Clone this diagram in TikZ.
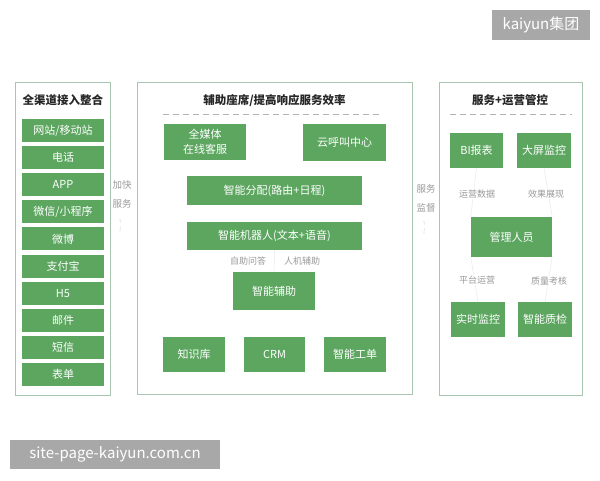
\documentclass[tikz,border=0pt]{standalone}
\usepackage{fontspec}
\setmainfont{Noto Sans CJK SC}
\usetikzlibrary{arrows.meta}
\definecolor{gboxc}{HTML}{5CA660}
\definecolor{framec}{HTML}{A9C6B0}
\definecolor{labc}{HTML}{9A9A9A}
\definecolor{wmc}{HTML}{A8A8A8}
\definecolor{faintc}{HTML}{EDEDED}
\tikzset{
  gbox/.style={fill=gboxc, draw=none, text=white, font=\fontsize{11}{13}\selectfont, inner sep=0pt, align=center},
  frame/.style={draw=framec, line width=0.9pt},
  ttl/.style={font=\fontsize{11.5}{13}\selectfont\bfseries, text=black!85},
  lab/.style={font=\fontsize{9}{11}\selectfont, text=labc, inner sep=0pt},
  side/.style={font=\fontsize{9.5}{19}\selectfont, text=labc, align=center, inner sep=0pt},
  dline/.style={draw=black!30, dashed, dash pattern=on 6pt off 4pt, line width=0.8pt},
  faint/.style={draw=faintc, line width=0.6pt},
  wm/.style={fill=wmc, text=white, inner sep=0pt, font=\fontsize{15}{17}\selectfont}
}
\begin{document}
\begin{tikzpicture}[x=1pt,y=-1pt]
\useasboundingbox[fill=white] (0,0) rectangle (600,480);
% frames
\draw[frame] (15,82) rectangle (110,395);
\draw[frame] (137,82) rectangle (412,394);
\draw[frame] (439,82) rectangle (582,395);
% titles
\node[ttl] (t1) at (63,100) {全渠道接入整合};
\node[ttl] (t2) at (274.5,101) {辅助座席/提高响应服务效率};
\node[ttl] (t3) at (510,100) {服务+运营管控};
\coordinate (d2a) at (163,114); \coordinate (d2b) at (382,114);
\coordinate (d3a) at (450,114); \coordinate (d3b) at (572,114);
\draw[dline] (d2a) -- (d2b);
\draw[dline] (d3a) -- (d3b);
% left column
\foreach \t [count=\i from 0] in {网站/移动站,电话,APP,微信/小程序,微博,支付宝,H5,邮件,短信,表单}{
  \node[gbox, minimum width=82pt, minimum height=23pt] (l\i) at (63,{130.5+27.1*\i}) {\t};
}
% middle
\node[gbox, minimum width=82pt, minimum height=36pt, font=\fontsize{11}{15}\selectfont] (mm) at (205,142) {全媒体\\在线客服};
\node[gbox, minimum width=83pt, minimum height=37pt] (yh) at (344.5,142) {云呼叫中心};
\node[gbox, minimum width=175pt, minimum height=29pt] (fp) at (274.5,190.5) {智能分配(路由+日程)};
\node[gbox, minimum width=175pt, minimum height=28pt] (jq) at (274.5,236) {智能机器人(文本+语音)};
\node[lab] (zw) at (248,261) {自助问答};
\node[lab] (rj) at (302,261) {人机辅助};
\node[gbox, minimum width=82pt, minimum height=38pt] (fz) at (274,291) {智能辅助};
\draw[faint] (jq.south) -- (fz.north);
\node[gbox, minimum width=62pt, minimum height=35pt] (zs) at (194,354.5) {知识库};
\node[gbox, minimum width=61pt, minimum height=35pt] (crm) at (274.5,354.5) {CRM};
\node[gbox, minimum width=62pt, minimum height=35pt] (gd) at (355,354.5) {智能工单};
% right
\node[gbox, minimum width=53pt, minimum height=35pt] (bi) at (476.5,150.5) {BI报表};
\node[gbox, minimum width=54pt, minimum height=35pt] (dp) at (544,150.5) {大屏监控};
\node[gbox, minimum width=81pt, minimum height=40pt] (gl) at (511.5,237) {管理人员};
\node[gbox, minimum width=54pt, minimum height=35pt] (ss) at (478,319.5) {实时监控};
\node[gbox, minimum width=54pt, minimum height=35pt] (zj) at (545,319.5) {智能质检};
\draw[faint] (bi.south) -- (gl.north west);
\draw[faint] (dp.south) -- (gl.north east);
\draw[faint] (gl.south west) -- (ss.north);
\draw[faint] (gl.south east) -- (zj.north);
\node[lab, fill=white, inner sep=1pt] (yy) at (477,194) {运营数据};
\node[lab, fill=white, inner sep=1pt] (xg) at (546,194) {效果展现};
\node[lab, fill=white, inner sep=1pt] (pt) at (477,280) {平台运营};
\node[lab, fill=white, inner sep=1pt] (zl) at (549,281) {质量考核};
% side texts
\node[side] (jk) at (122,194) {加快\\服务};
\node[side] (jd) at (426,198) {服务\\监督};
\coordinate (a1) at (120,218); \coordinate (a2) at (120,232);
\coordinate (b1) at (424,220); \coordinate (b2) at (424,234);
\draw[faint, dashed, {Stealth[length=3pt]}-{Stealth[length=3pt]}] (a1) -- (a2);
\draw[faint, dashed, {Stealth[length=3pt]}-{Stealth[length=3pt]}] (b1) -- (b2);
% watermarks
\node[wm, minimum width=98pt, minimum height=30pt] (w1) at (541,25) {kaiyun集团};
\node[wm, minimum width=210pt, minimum height=29pt] (w2) at (115,454.5) {site-page-kaiyun.com.cn};
\end{tikzpicture}
\end{document}
